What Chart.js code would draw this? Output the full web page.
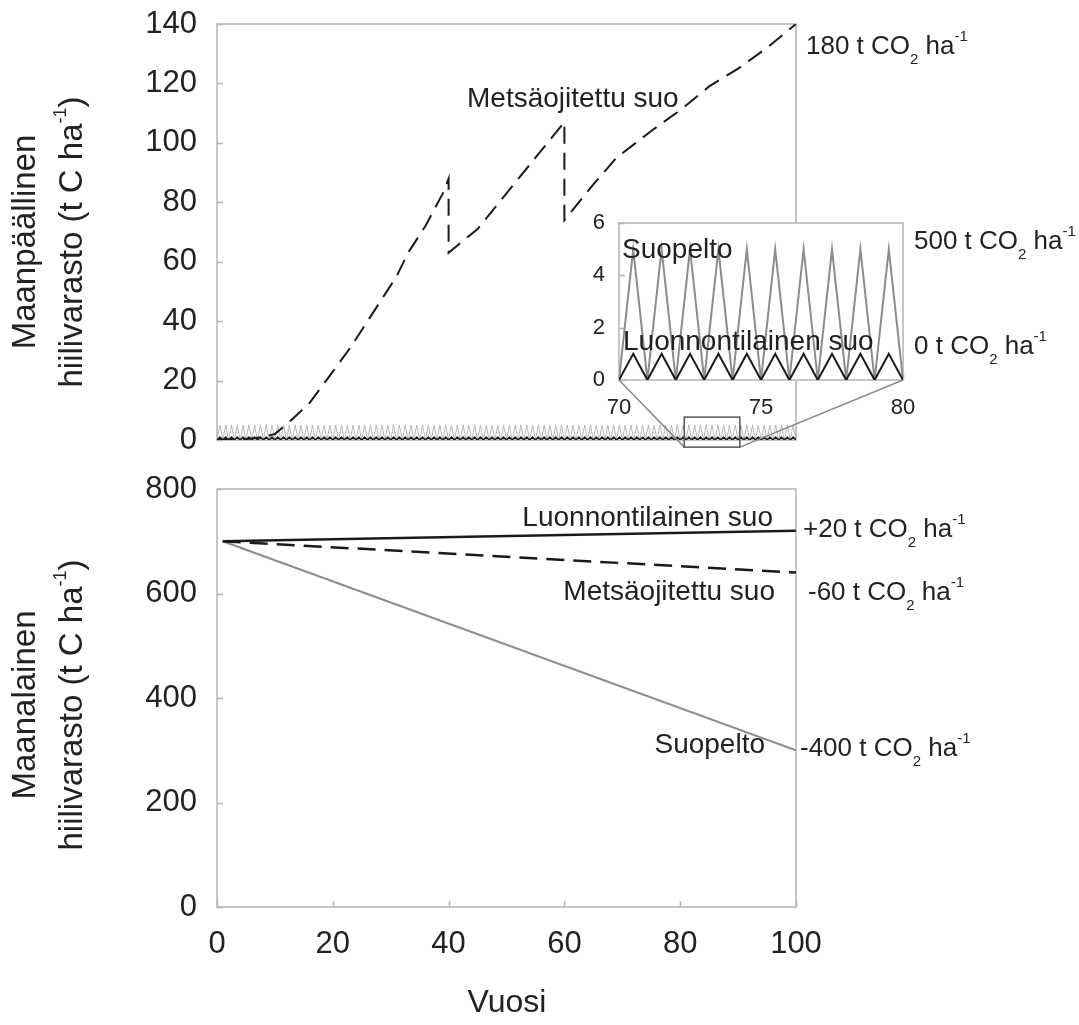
<!DOCTYPE html>
<html>
<head>
<meta charset="utf-8">
<script src="https://cdn.jsdelivr.net/npm/chart.js@4.4.1/dist/chart.umd.min.js"></script>
<style>
  body { margin: 0; background: #fff; }
  #wrap { position: relative; width: 1079px; height: 1025px; overflow: hidden; }
  canvas { position: absolute; left: 0; }
</style>
</head>
<body>
<div id="wrap">
  <canvas id="top" width="1079" height="470" style="top:0"></canvas>
  <canvas id="inset" width="1079" height="470" style="top:0"></canvas>
  <canvas id="bottom" width="1079" height="565" style="top:460px"></canvas>
</div>
<script>
// ---- data ----
// above-ground stock, t C / ha; yearly cycle for Luonnontilainen suo and Suopelto
const HALF_YEARS = [
  0,0.5,1,1.5,2,2.5,3,3.5,4,4.5,5,5.5,6,6.5,7,7.5,8,8.5,9,9.5,
  10,10.5,11,11.5,12,12.5,13,13.5,14,14.5,15,15.5,16,16.5,17,17.5,18,18.5,19,19.5,
  20,20.5,21,21.5,22,22.5,23,23.5,24,24.5,25,25.5,26,26.5,27,27.5,28,28.5,29,29.5,
  30,30.5,31,31.5,32,32.5,33,33.5,34,34.5,35,35.5,36,36.5,37,37.5,38,38.5,39,39.5,
  40,40.5,41,41.5,42,42.5,43,43.5,44,44.5,45,45.5,46,46.5,47,47.5,48,48.5,49,49.5,
  50,50.5,51,51.5,52,52.5,53,53.5,54,54.5,55,55.5,56,56.5,57,57.5,58,58.5,59,59.5,
  60,60.5,61,61.5,62,62.5,63,63.5,64,64.5,65,65.5,66,66.5,67,67.5,68,68.5,69,69.5,
  70,70.5,71,71.5,72,72.5,73,73.5,74,74.5,75,75.5,76,76.5,77,77.5,78,78.5,79,79.5,
  80,80.5,81,81.5,82,82.5,83,83.5,84,84.5,85,85.5,86,86.5,87,87.5,88,88.5,89,89.5,
  90,90.5,91,91.5,92,92.5,93,93.5,94,94.5,95,95.5,96,96.5,97,97.5,98,98.5,99,99.5,
  100
];
const LUONNON_TOP = [
  0,1,0,1,0,1,0,1,0,1,0,1,0,1,0,1,0,1,0,1,
  0,1,0,1,0,1,0,1,0,1,0,1,0,1,0,1,0,1,0,1,
  0,1,0,1,0,1,0,1,0,1,0,1,0,1,0,1,0,1,0,1,
  0,1,0,1,0,1,0,1,0,1,0,1,0,1,0,1,0,1,0,1,
  0,1,0,1,0,1,0,1,0,1,0,1,0,1,0,1,0,1,0,1,
  0,1,0,1,0,1,0,1,0,1,0,1,0,1,0,1,0,1,0,1,
  0,1,0,1,0,1,0,1,0,1,0,1,0,1,0,1,0,1,0,1,
  0,1,0,1,0,1,0,1,0,1,0,1,0,1,0,1,0,1,0,1,
  0,1,0,1,0,1,0,1,0,1,0,1,0,1,0,1,0,1,0,1,
  0,1,0,1,0,1,0,1,0,1,0,1,0,1,0,1,0,1,0,1,
  0
];
const SUOPELTO_TOP = [
  0,5,0,5,0,5,0,5,0,5,0,5,0,5,0,5,0,5,0,5,
  0,5,0,5,0,5,0,5,0,5,0,5,0,5,0,5,0,5,0,5,
  0,5,0,5,0,5,0,5,0,5,0,5,0,5,0,5,0,5,0,5,
  0,5,0,5,0,5,0,5,0,5,0,5,0,5,0,5,0,5,0,5,
  0,5,0,5,0,5,0,5,0,5,0,5,0,5,0,5,0,5,0,5,
  0,5,0,5,0,5,0,5,0,5,0,5,0,5,0,5,0,5,0,5,
  0,5,0,5,0,5,0,5,0,5,0,5,0,5,0,5,0,5,0,5,
  0,5,0,5,0,5,0,5,0,5,0,5,0,5,0,5,0,5,0,5,
  0,5,0,5,0,5,0,5,0,5,0,5,0,5,0,5,0,5,0,5,
  0,5,0,5,0,5,0,5,0,5,0,5,0,5,0,5,0,5,0,5,
  0
];
// Metsäojitettu suo, with the two thinnings at 40 and 60
const METSA_YEARS = [0, 5, 8, 10, 13, 16, 20, 23, 26, 29, 31, 33, 36, 39, 40, 40, 45, 50, 55, 60, 60, 65, 69, 75, 80, 85, 90, 95, 100];
const METSA_TOP   = [0, 0.3, 1, 2, 7, 12.5, 23, 31, 40, 49, 55, 63, 72, 83, 88, 63, 71, 83, 95, 107, 74, 86, 95, 104, 111, 119, 125, 132, 140];

// below-ground stock, t C / ha
const BOTTOM_YEARS    = [1, 100];
const LUONNON_BOTTOM  = [700, 720];
const METSA_BOTTOM    = [700, 640];
const SUOPELTO_BOTTOM = [700, 300];

const TOP_Y_TICKS = [0, 140, 20];      // min, max, step
const BOTTOM_Y_TICKS = [0, 800, 200];
const INSET_Y_TICKS = [0, 6, 2];
const X_RANGE = [0, 100, 20];
const INSET_X_RANGE = [70, 80, 1];

// ---- helpers ----
const FONT = "'Liberation Sans', Arial, Helvetica, sans-serif";
const INK = '#222';
const FRAME = '#b4b4b4';
const pts = (xs, ys) => xs.map((x, i) => ({ x, y: ys[i] }));

// parts: [text, kind] kind 0 normal, 1 subscript, 2 superscript
function drawRich(ctx, parts, x, baseY, size, align) {
  const small = Math.round(size * 0.56);
  let total = 0;
  parts.forEach(p => {
    ctx.font = `${p[1] ? small : size}px ${FONT}`;
    total += ctx.measureText(p[0]).width;
  });
  let cx = align === 'center' ? x - total / 2 : align === 'right' ? x - total : x;
  ctx.textAlign = 'left'; ctx.textBaseline = 'alphabetic'; ctx.fillStyle = INK;
  parts.forEach(p => {
    ctx.font = `${p[1] ? small : size}px ${FONT}`;
    const dy = p[1] === 1 ? size * 0.36 : p[1] === 2 ? -size * 0.5 : 0;
    ctx.fillText(p[0], cx, baseY + dy);
    cx += ctx.measureText(p[0]).width;
  });
}

const co2 = v => [[v + ' t CO', 0], ['2', 1], [' ha', 0], ['-1', 2]];

// frame + inside tick marks
const framePlugin = {
  id: 'frame',
  beforeDatasetsDraw(chart, args, opts) {
    const { ctx, chartArea: a, scales } = chart;
    ctx.save();
    if (opts.fill) { ctx.fillStyle = '#fff'; ctx.fillRect(a.left, a.top, a.right - a.left, a.bottom - a.top); }
    ctx.strokeStyle = FRAME; ctx.lineWidth = 1.5;
    ctx.strokeRect(a.left, a.top, a.right - a.left, a.bottom - a.top);
    ctx.beginPath();
    scales.y.ticks.forEach(t => {
      const py = Math.round(scales.y.getPixelForValue(t.value)) + 0.5;
      ctx.moveTo(a.left, py); ctx.lineTo(a.left + 6, py);
    });
    if (opts.xTicks) {
      scales.x.ticks.forEach(t => {
        const px = Math.round(scales.x.getPixelForValue(t.value)) + 0.5;
        ctx.moveTo(px, a.bottom); ctx.lineTo(px, a.bottom - 6);
      });
    }
    ctx.stroke();
    ctx.restore();
  }
};

// text labels, given in page coordinates; offsetY = canvas top
const textPlugin = {
  id: 'labels',
  afterDraw(chart, args, opts) {
    const ctx = chart.ctx;
    ctx.save();
    (opts.items || []).forEach(it => {
      const y = it.y - opts.offsetY;
      if (it.rot) {
        ctx.save();
        ctx.translate(it.x, y);
        ctx.rotate(-Math.PI / 2);
        drawRich(ctx, it.parts, 0, 0, it.size, 'center');
        ctx.restore();
      } else {
        drawRich(ctx, it.parts, it.x, y + it.size * 0.36, it.size, it.align || 'left');
      }
    });
    ctx.restore();
  }
};

// gap between labels and frame comes from an invisible tick mark, so the
// tick padding does not eat into the plot height
const yScale = (r, w, size, gap) => ({
  min: r[0], max: r[1],
  ticks: { stepSize: r[2], color: INK, font: { family: FONT, size }, padding: 0 },
  grid: { display: true, drawOnChartArea: false, drawTicks: true, tickLength: gap, color: 'rgba(0,0,0,0)' },
  border: { display: false },
  afterFit: s => { s.width = w; }
});

const common = {
  responsive: false, animation: false, events: [],
  elements: { point: { radius: 0 }, line: { tension: 0 } },
};

// ---- top panel ----
const topChart = new Chart(document.getElementById('top'), {
  type: 'line',
  data: {
    datasets: [
      { data: pts(METSA_YEARS, METSA_TOP), borderColor: '#1a1a1a', borderWidth: 2, borderDash: [17, 9] },
      { data: pts(HALF_YEARS, LUONNON_TOP), borderColor: '#1a1a1a', borderWidth: 1.5 },
      { data: pts(HALF_YEARS, SUOPELTO_TOP), borderColor: '#a8a8a8', borderWidth: 0.8 },
    ]
  },
  options: {
    ...common,
    layout: { padding: { left: 0, top: 24, right: 283, bottom: 30 } },
    plugins: {
      legend: { display: false }, tooltip: { enabled: false },
      frame: {},
      labels: {
        offsetY: 0,
        items: [
          { parts: [['Maanpäällinen', 0]], x: 35, y: 242, size: 33, rot: true },
          { parts: [['hiilivarasto (t C ha', 0], ['-1', 2], [')', 0]], x: 82, y: 242, size: 33, rot: true },
          { parts: [['Metsäojitettu suo', 0]], x: 467, y: 97, size: 28 },
          { parts: co2('180'), x: 806, y: 45, size: 26 },
        ]
      }
    },
    scales: {
      x: { type: 'linear', min: X_RANGE[0], max: X_RANGE[1], display: false },
      y: yScale(TOP_Y_TICKS, 217, 31, 20)
    }
  },
  plugins: [framePlugin, textPlugin]
});

// ---- inset (zoom on years 70-80), same data ----
const insetLinks = {
  id: 'links',
  afterDraw(chart) {
    const { ctx, chartArea: a } = chart;
    const sx = topChart.scales.x, sy = topChart.scales.y;
    const bx0 = sx.getPixelForValue(80.7), bx1 = sx.getPixelForValue(90.3);
    const by0 = sy.getPixelForValue(7.7), by1 = sy.getPixelForValue(-2.4);
    ctx.save();
    ctx.strokeStyle = '#8a8a8a'; ctx.lineWidth = 1.5;
    ctx.beginPath();
    ctx.moveTo(a.left, a.bottom); ctx.lineTo(bx0, by1);
    ctx.moveTo(a.right, a.bottom); ctx.lineTo(bx1, by1);
    ctx.stroke();
    ctx.strokeStyle = '#555'; ctx.lineWidth = 1.5;
    ctx.strokeRect(bx0, by0, bx1 - bx0, by1 - by0);
    ctx.restore();
  }
};

new Chart(document.getElementById('inset'), {
  type: 'line',
  data: {
    datasets: [
      { data: pts(HALF_YEARS, LUONNON_TOP), borderColor: '#1a1a1a', borderWidth: 2 },
      { data: pts(HALF_YEARS, SUOPELTO_TOP), borderColor: '#8c8c8c', borderWidth: 2 },
    ]
  },
  options: {
    ...common,
    layout: { padding: { left: 579, top: 223, right: 176, bottom: 50 } },
    plugins: {
      legend: { display: false }, tooltip: { enabled: false },
      frame: { fill: true, xTicks: true },
      labels: {
        offsetY: 0,
        items: [
          { parts: [['Suopelto', 0]], x: 622, y: 248, size: 28 },
          { parts: [['Luonnontilainen suo', 0]], x: 623, y: 340, size: 28 },
          { parts: co2('500'), x: 914, y: 240, size: 26 },
          { parts: co2('0'), x: 914, y: 345, size: 26 },
        ]
      }
    },
    scales: {
      x: {
        type: 'linear', min: INSET_X_RANGE[0], max: INSET_X_RANGE[1],
        ticks: { stepSize: INSET_X_RANGE[2], autoSkip: false, maxRotation: 0, color: INK, font: { family: FONT, size: 22 }, padding: 15,
                 callback: v => (v % 5 === 0 ? v : '') },
        grid: { display: false, drawTicks: false }, border: { display: false },
        afterFit: s => { s.height = 40; }
      },
      y: yScale(INSET_Y_TICKS, 40, 22, 14)
    }
  },
  plugins: [framePlugin, textPlugin, insetLinks]
});

// ---- bottom panel ----
new Chart(document.getElementById('bottom'), {
  type: 'line',
  data: {
    datasets: [
      { data: pts(BOTTOM_YEARS, LUONNON_BOTTOM), borderColor: '#1a1a1a', borderWidth: 2.5 },
      { data: pts(BOTTOM_YEARS, METSA_BOTTOM), borderColor: '#1a1a1a', borderWidth: 2.5, borderDash: [18, 9] },
      { data: pts(BOTTOM_YEARS, SUOPELTO_BOTTOM), borderColor: '#8c8c8c', borderWidth: 2 },
    ]
  },
  options: {
    ...common,
    layout: { padding: { left: 0, top: 29, right: 283, bottom: 58 } },
    plugins: {
      legend: { display: false }, tooltip: { enabled: false },
      frame: { xTicks: true },
      labels: {
        offsetY: 460,
        items: [
          { parts: [['Maanalainen', 0]], x: 35, y: 705, size: 33, rot: true },
          { parts: [['hiilivarasto (t C ha', 0], ['-1', 2], [')', 0]], x: 82, y: 705, size: 33, rot: true },
          { parts: [['Luonnontilainen suo', 0]], x: 773, y: 516, size: 28, align: 'right' },
          { parts: [['Metsäojitettu suo', 0]], x: 775, y: 590, size: 28, align: 'right' },
          { parts: [['Suopelto', 0]], x: 765, y: 743, size: 28, align: 'right' },
          { parts: co2('+20'), x: 803, y: 528, size: 26 },
          { parts: co2('-60'), x: 808, y: 591, size: 26 },
          { parts: co2('-400'), x: 800, y: 747, size: 26 },
          { parts: [['Vuosi', 0]], x: 507, y: 1000, size: 32, align: 'center' },
        ]
      }
    },
    scales: {
      x: {
        type: 'linear', min: X_RANGE[0], max: X_RANGE[1],
        ticks: { stepSize: X_RANGE[2], maxRotation: 0, color: INK, font: { family: FONT, size: 31 }, padding: 19 },
        grid: { display: false, drawTicks: false }, border: { display: false },
        afterFit: s => { s.height = 60; }
      },
      y: yScale(BOTTOM_Y_TICKS, 217, 31, 20)
    }
  },
  plugins: [framePlugin, textPlugin]
});
</script>
</body>
</html>
